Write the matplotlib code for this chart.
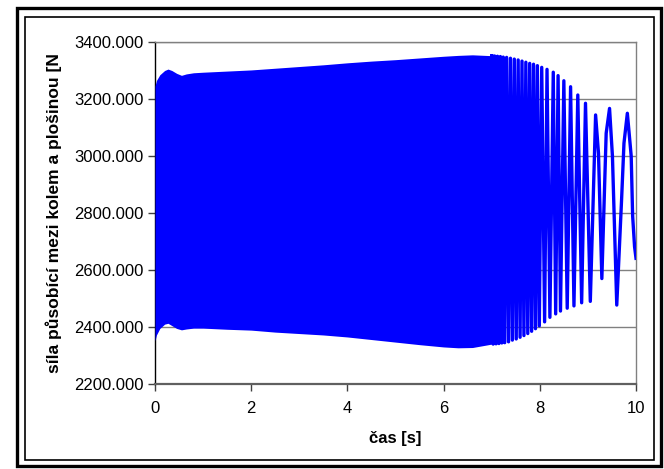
import matplotlib
matplotlib.use("Agg")
import matplotlib.pyplot as plt
from matplotlib.patches import Rectangle

plt.rcParams['font.family'] = ['Liberation Sans', 'DejaVu Sans']

# obalka husté části signálu (0 .. 7.0 s)
env_t = [0, 0.03, 0.1, 0.2, 0.27, 0.35, 0.45, 0.55, 0.65, 0.8, 1.0, 1.5, 2.0, 2.5,
         3.0, 3.5, 4.0, 4.5, 5.0, 5.5, 6.0, 6.3, 6.6, 7.0]
env_up = [3245, 3265, 3285, 3300, 3305, 3300, 3290, 3283, 3288, 3292, 3294, 3298, 3302, 3308,
          3314, 3320, 3327, 3333, 3338, 3344, 3350, 3353, 3355, 3352]
env_lo = [2352, 2372, 2395, 2410, 2413, 2405, 2395, 2390, 2393, 2396, 2396, 2392, 2389, 2382,
          2377, 2372, 2365, 2356, 2347, 2338, 2330, 2327, 2328, 2340]

# konec signálu - jednotlivé kmity (maxima, minima)
wave_t = [7.00, 7.03, 7.06, 7.09, 7.12, 7.15, 7.18, 7.21, 7.24, 7.27, 7.31, 7.35, 7.39, 7.43,
          7.47, 7.51, 7.55, 7.59, 7.63, 7.67, 7.71, 7.75, 7.79, 7.83, 7.87, 7.91, 7.95, 7.99,
          8.04, 8.10, 8.15, 8.21, 8.28, 8.33, 8.38, 8.43, 8.50, 8.57, 8.64, 8.71,
          8.79, 8.87, 8.95, 9.05, 9.16, 9.22, 9.29, 9.38, 9.45, 9.51, 9.60, 9.70, 9.75, 9.82,
          9.90, 9.93, 9.97, 10.0]
wave_f = [3352, 2340, 3351, 2341, 3350, 2342, 3349, 2344, 3347, 2345, 3346, 2348, 3343, 2354,
          3340, 2358, 3337, 2364, 3333, 2370, 3329, 2377, 3325, 2385, 3322, 2394, 3317, 2404,
          3311, 2418, 3304, 2434, 3294, 2446, 3282, 2456, 3264, 2466, 3243, 2474,
          3214, 2485, 3185, 2490, 3144, 3010, 2570, 3080, 3167, 3000, 2477, 2846, 3045, 3150,
          3000, 2790, 2682, 2641]

x_ticks = [0, 2, 4, 6, 8, 10]
y_ticks = [2200, 2400, 2600, 2800, 3000, 3200, 3400]

fig = plt.figure(figsize=(6.64, 4.69), dpi=100)
ax = fig.add_axes([155 / 664, 1 - 384 / 469, 481 / 664, 342 / 469])

blue = '#0000ff'
ax.fill_between(env_t, env_lo, env_up, color=blue, lw=0, zorder=3)
ax.plot(wave_t, wave_f, color=blue, lw=2.4, zorder=3)

ax.set_xlim(0, 10)
ax.set_ylim(2200, 3400)
ax.set_xticks(x_ticks)
ax.set_yticks(y_ticks)
ax.set_yticklabels(['%.3f' % v for v in y_ticks])
ax.tick_params(labelsize=12, direction='out', length=5, width=1, color='#404040')
ax.tick_params(axis='x', pad=7)
ax.tick_params(axis='y', pad=3)
ax.yaxis.grid(True, color='#808080', lw=1)
ax.set_axisbelow(True)

for s in ['top', 'right']:
    ax.spines[s].set_color('#808080')
    ax.spines[s].set_linewidth(1)
ax.spines['left'].set_color('black')
ax.spines['left'].set_linewidth(1)
ax.spines['bottom'].set_color('#606060')
ax.spines['bottom'].set_linewidth(1.6)

ax.set_xlabel('čas [s]', fontsize=12, fontweight='bold', labelpad=11)
ax.set_ylabel('síla působící mezi kolem a plošinou [N', fontsize=12.5, fontweight='bold', labelpad=9)

# rámeček grafu (dvojitý jako v Excelu)
W, H = 664, 469
fig.patches.append(Rectangle((17 / W, 1 - 466 / H), 644 / W, 458 / H, transform=fig.transFigure,
                             fill=False, ec='black', lw=2.4))
fig.patches.append(Rectangle((25 / W, 1 - 460 / H), 629 / W, 443 / H, transform=fig.transFigure,
                             fill=False, ec='black', lw=1.2))

fig.savefig('out.png', dpi=100)
